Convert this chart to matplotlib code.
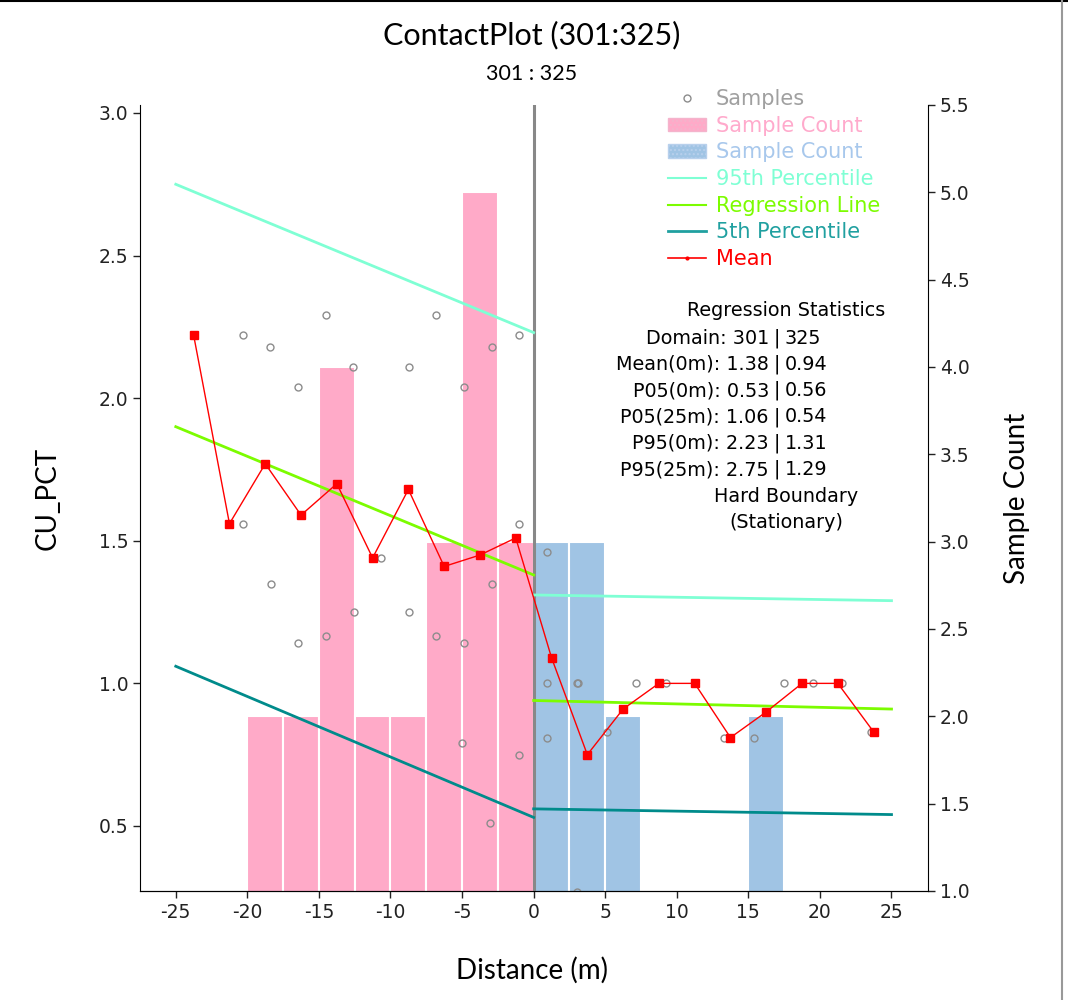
import matplotlib
matplotlib.use("Agg")
import matplotlib.pyplot as plt
from matplotlib.patches import Patch
from matplotlib.lines import Line2D

plt.rcParams["axes.unicode_minus"] = False

# histogram bins (2.5 m wide), left edges and sample counts per domain
bin_width = 2.5
pink_left = [-20, -17.5, -15, -12.5, -10, -7.5, -5, -2.5]
pink_count = [2, 2, 4, 2, 2, 3, 5, 3]
blue_left = [0, 2.5, 5, 15]
blue_count = [3, 3, 2, 2]

# raw samples
sample_x = [-20.3, -18.4, -14.5, -12.6, -8.7, -6.8, -2.93, -1.0,
            -16.46, -4.87, -20.3, -1.0, -18.37, -2.93, -10.64,
            -12.57, -8.73, -16.46, -4.87, -14.5, -6.8,
            -5.03, -1.02, -3.02,
            0.96, 0.96, 0.96, 3.0, 3.12, 3.02, 5.12, 7.14, 9.27,
            13.3, 15.4, 17.46, 19.5, 21.57, 23.6]
sample_y = [2.22, 2.18, 2.29, 2.11, 2.11, 2.29, 2.18, 2.22,
            2.04, 2.04, 1.56, 1.56, 1.35, 1.35, 1.44,
            1.25, 1.25, 1.14, 1.14, 1.165, 1.165,
            0.79, 0.75, 0.51,
            1.46, 1.0, 0.81, 1.0, 1.0, 0.27, 0.83, 1.0, 1.0,
            0.81, 0.81, 1.0, 1.0, 1.0, 0.83]

# binned means
mean_x = [-23.75, -21.25, -18.75, -16.25, -13.75, -11.25, -8.75, -6.25, -3.75, -1.25,
          1.25, 3.75, 6.25, 8.75, 11.25, 13.75, 16.25, 18.75, 21.25, 23.75]
mean_y = [2.22, 1.56, 1.77, 1.59, 1.70, 1.44, 1.68, 1.41, 1.45, 1.51,
          1.09, 0.75, 0.91, 1.00, 1.00, 0.81, 0.90, 1.00, 1.00, 0.83]

# regression / percentile lines either side of the contact
dist_left = [-25, 0]
p95_left = [2.75, 2.23]
reg_left = [1.90, 1.38]
p05_left = [1.06, 0.53]
dist_right = [0, 25]
p95_right = [1.31, 1.29]
reg_right = [0.94, 0.91]
p05_right = [0.56, 0.54]

stats_header = "Regression Statistics"
stats_rows = [("Domain:", "301", "325"),
              ("Mean(0m):", "1.38", "0.94"),
              ("P05(0m):", "0.53", "0.56"),
              ("P05(25m):", "1.06", "0.54"),
              ("P95(0m):", "2.23", "1.31"),
              ("P95(25m):", "2.75", "1.29")]
stats_footer = ["Hard Boundary", "(Stationary)"]

PINK = "#ffaac8"
BLUE = "#a0c4e4"
AQUA = "#7fffd4"
LIME = "#7cfc00"
TEAL = "#008b8b"
GREY = "#8c8c8c"

W, H = 1068, 1000
fig = plt.figure(figsize=(W / 100, H / 100), dpi=100)
ax = fig.add_axes([140 / W, 1 - 891 / H, (928 - 140) / W, (891 - 105) / H])
ax2 = ax.twinx()

ax2.bar(pink_left, pink_count, width=bin_width, align="edge", color=PINK,
        edgecolor="white", linewidth=1.5)
ax2.bar(blue_left, blue_count, width=bin_width, align="edge", color=BLUE,
        edgecolor="white", linewidth=1.5)

ax.set_zorder(ax2.get_zorder() + 1)
ax.patch.set_visible(False)

ax.axvline(0, color="#888888", linewidth=2.2, zorder=1)
ax.plot(dist_left, p95_left, color=AQUA, linewidth=2)
ax.plot(dist_right, p95_right, color=AQUA, linewidth=2)
ax.plot(dist_left, reg_left, color=LIME, linewidth=2)
ax.plot(dist_right, reg_right, color=LIME, linewidth=2)
ax.plot(dist_left, p05_left, color=TEAL, linewidth=2)
ax.plot(dist_right, p05_right, color=TEAL, linewidth=2)
ax.plot(sample_x, sample_y, linestyle="none", marker="o", markersize=5,
        markerfacecolor="none", markeredgecolor=GREY, markeredgewidth=1)
ax.plot(mean_x, mean_y, color="red", linewidth=1, marker="s", markersize=6)

ax.set_xlim(-27.5, 27.55)
ax.set_ylim(0.272, 3.028)
ax2.set_ylim(1.0, 5.5)
ax.set_xticks(range(-25, 30, 5))
ax.set_yticks([0.5, 1.0, 1.5, 2.0, 2.5, 3.0])
ax2.set_yticks([1.0, 1.5, 2.0, 2.5, 3.0, 3.5, 4.0, 4.5, 5.0, 5.5])
ax.yaxis.set_major_formatter(matplotlib.ticker.FormatStrFormatter("%.1f"))
ax2.yaxis.set_major_formatter(matplotlib.ticker.FormatStrFormatter("%.1f"))

for a in (ax, ax2):
    a.spines["top"].set_visible(False)
    a.tick_params(direction="out", length=5, width=1, labelsize=13.5,
                  colors="#222222")
ax.spines["right"].set_visible(False)
ax2.spines["left"].set_visible(False)

# legend
handles = [
    Line2D([], [], linestyle="none", marker="o", markersize=5,
           markerfacecolor="none", markeredgecolor=GREY),
    Patch(facecolor=PINK, edgecolor="#f4b4cc", hatch="...."),
    Patch(facecolor=BLUE, edgecolor="#b8d0ec", hatch="...."),
    Line2D([], [], color=AQUA, linewidth=1.5),
    Line2D([], [], color=LIME, linewidth=1.5),
    Line2D([], [], color="#20a0a0", linewidth=2),
    Line2D([], [], color="red", linewidth=1.2, marker=".", markersize=4),
]
labels = ["Samples", "Sample Count", "Sample Count", "95th Percentile",
          "Regression Line", "5th Percentile", "Mean"]
label_colors = ["#a0a0a0", "#ffaacc", "#a8c8ec", "#7fffd4", "#7cfc00",
                "#20a0a0", "red"]
leg = fig.legend(handles, labels, loc="upper left",
                 bbox_to_anchor=(668 / W, 1 - 89 / H), frameon=False,
                 fontsize=15, handlelength=1.8, handletextpad=0.5,
                 handleheight=0.6, labelspacing=0.32, borderpad=0,
                 borderaxespad=0)
for txt, c in zip(leg.get_texts(), label_colors):
    txt.set_color(c)

# regression statistics block
bar_x = 777 / W
stat_fs = 13.8
fig.text(786 / W, 1 - 311 / H, stats_header, ha="center", va="center",
         fontsize=stat_fs)
for i, (name, left_val, right_val) in enumerate(stats_rows):
    y = 1 - (338 + i * 26.3) / H
    fig.text(bar_x - 8 / W, y, f"{name} {left_val}", ha="right", va="center",
             fontsize=stat_fs)
    fig.text(bar_x, y, "|", ha="center", va="center", fontsize=stat_fs)
    fig.text(bar_x + 8 / W, y, right_val, ha="left", va="center",
             fontsize=stat_fs)
for i, line in enumerate(stats_footer):
    fig.text(786 / W, 1 - (496 + i * 26.3) / H, line, ha="center",
             va="center", fontsize=stat_fs)

# titles and axis labels
fig.text(532 / W, 1 - 35 / H, "ContactPlot (301:325)", ha="center",
         va="center", fontsize=22, family="Lato")
fig.text(532 / W, 1 - 74 / H, "301 : 325", ha="center", va="center",
         fontsize=15.5, family="Lato")
fig.text(532 / W, 1 - 970 / H, "Distance (m)", ha="center", va="center",
         fontsize=20, family="Lato")
fig.text(48 / W, 1 - 498 / H, "CU_PCT", ha="center", va="center",
         rotation=90, fontsize=20, family="Lato")
fig.text(1017 / W, 1 - 498 / H, "Sample Count", ha="center", va="center",
         rotation=90, fontsize=20, family="Lato")

# outer frame edges
fig.add_artist(Line2D([0, 1], [0.999, 0.999], color="black", linewidth=1.5,
                      transform=fig.transFigure))
fig.add_artist(Line2D([1062 / W, 1062 / W], [0, 1], color="#999999",
                      linewidth=1.5, transform=fig.transFigure))

fig.savefig("out.png", dpi=100)
